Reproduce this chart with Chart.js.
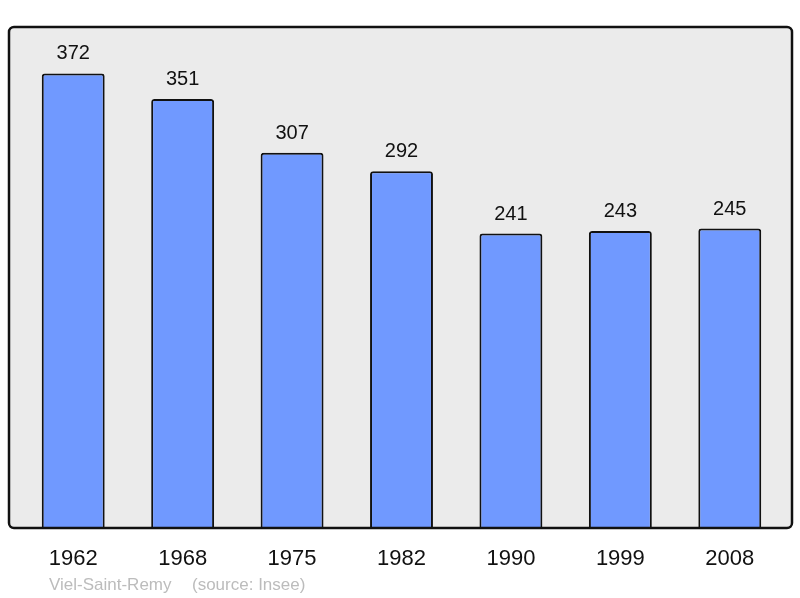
<!DOCTYPE html>
<html>
<head>
<meta charset="utf-8">
<script src="https://cdn.jsdelivr.net/npm/chart.js@4"></script>
<style>
  html, body { margin: 0; padding: 0; background: #ffffff; }
  #wrap { width: 800px; height: 598px; }
</style>
</head>
<body>
<div id="wrap"><canvas id="popChart" width="800" height="598"></canvas></div>
<script>
const years = ["1962", "1968", "1975", "1982", "1990", "1999", "2008"];
const population = [372, 351, 307, 292, 241, 243, 245];
const townName = "Viel-Saint-Remy";
const sourceText = "(source: Insee)";

const FONT = "'Liberation Sans', Arial, sans-serif";

// grey frame behind the bars + labels drawn on top
function framePath(ctx, area) {
  const x0 = area.left - 9.5, x1 = area.right + 7.5;
  ctx.beginPath();
  ctx.roundRect(x0, area.top, x1 - x0, area.bottom - area.top, 5);
}

const framePlugin = {
  id: "frame",
  beforeDatasetsDraw(chart) {
    const { ctx, chartArea } = chart;
    ctx.save();
    framePath(ctx, chartArea);
    ctx.fillStyle = "#ebebeb";
    ctx.fill();
    ctx.restore();
  },
  afterDatasetsDraw(chart) {
    const { ctx, chartArea } = chart;
    ctx.save();
    framePath(ctx, chartArea);
    ctx.lineWidth = 2.5;
    ctx.strokeStyle = "#111111";
    ctx.stroke();

    const meta = chart.getDatasetMeta(0);
    const xScale = chart.scales.x;
    ctx.fillStyle = "#111111";
    ctx.textAlign = "center";
    ctx.textBaseline = "alphabetic";
    ctx.font = "20px " + FONT;
    meta.data.forEach((bar, i) => {
      ctx.fillText(String(population[i]), bar.x, bar.y - 14);
    });
    ctx.font = "22px " + FONT;
    years.forEach((y, i) => {
      ctx.fillText(y, xScale.getPixelForTick(i), chartArea.bottom + 37);
    });
    ctx.fillStyle = "#bcbcbc";
    ctx.textAlign = "left";
    ctx.font = "17px " + FONT;
    ctx.fillText(townName, 49, 590);
    ctx.fillText(sourceText, 192, 590);
    ctx.restore();
  }
};

new Chart(document.getElementById("popChart"), {
  type: "bar",
  data: {
    labels: years,
    datasets: [{
      data: population,
      backgroundColor: "#7099ff",
      borderColor: "#111111",
      borderWidth: 2,
      borderRadius: 3,
      borderSkipped: "bottom",
      barPercentage: 0.575,
      categoryPercentage: 1.0
    }]
  },
  options: {
    responsive: false,
    animation: false,
    layout: { padding: { left: 18.5, right: 15.5, top: 27, bottom: 70 } },
    plugins: { legend: { display: false }, tooltip: { enabled: false } },
    scales: {
      x: { display: false, offset: true },
      y: { display: false, min: 0, max: 410 }
    }
  },
  plugins: [framePlugin]
});
</script>
</body>
</html>
